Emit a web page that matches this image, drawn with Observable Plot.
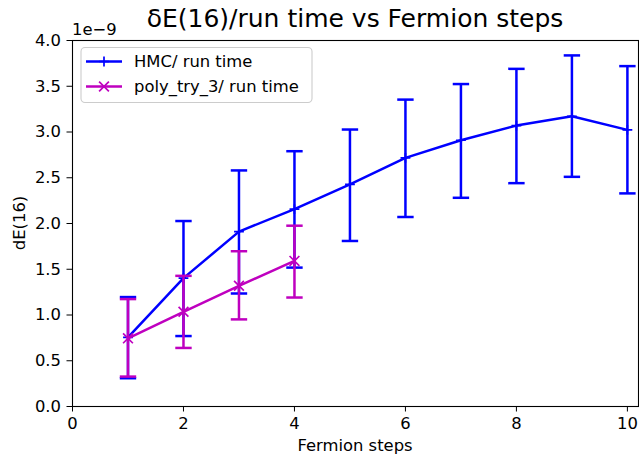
<!DOCTYPE html>
<html>
<head>
<meta charset="utf-8">
<script src="https://cdn.jsdelivr.net/npm/d3@7"></script>
<script src="https://cdn.jsdelivr.net/npm/@observablehq/plot@0.6"></script>
<style>
  html, body { margin: 0; padding: 0; background: #fff; }
  #chart svg { display: block; }
</style>
</head>
<body>
<div id="chart"></div>
<script>
// ---- data (values in units of 1e-9) ----
const hmcSteps = [1, 2, 3, 4, 5, 6, 7, 8, 9, 10];
const hmcValue = [0.755, 1.403, 1.911, 2.158, 2.427, 2.717, 2.910, 3.070, 3.172, 3.023];
const hmcLow   = [0.309, 0.770, 1.235, 1.518, 1.809, 2.071, 2.281, 2.441, 2.510, 2.329];
const hmcHigh  = [1.196, 2.027, 2.580, 2.790, 3.027, 3.354, 3.524, 3.690, 3.837, 3.720];

const polySteps = [1, 2, 3, 4];
const polyValue = [0.745, 1.035, 1.319, 1.591];
const polyLow   = [0.327, 0.640, 0.952, 1.191];
const polyHigh  = [1.174, 1.428, 1.697, 1.976];

const xTicks = [0, 2, 4, 6, 8, 10];
const yTicks = [0, 0.5, 1, 1.5, 2, 2.5, 3, 3.5, 4];

const seriesNames = ["HMC/ run time", "poly_try_3/ run time"];
const titleText = "δE(16)/run time vs Fermion steps";
const xLabel = "Fermion steps";
const yLabel = "dE(16)";
const offsetText = "1e\u22129";

const BLUE = "#0000ff";
const MAG = "#bf00bf";

const hmc = hmcSteps.map((s, i) => ({s, v: hmcValue[i], lo: hmcLow[i], hi: hmcHigh[i]}));
const poly = polySteps.map((s, i) => ({s, v: polyValue[i], lo: polyLow[i], hi: polyHigh[i]}));

// custom symbols
const capSym = {draw(ctx) { ctx.moveTo(-8.2, 0); ctx.lineTo(8.2, 0); }};
const plusSym = {draw(ctx) { ctx.moveTo(-4.9, 0); ctx.lineTo(4.9, 0); ctx.moveTo(0, -4.9); ctx.lineTo(0, 4.9); }};
const timesSym = {draw(ctx) { const a = 4.9; ctx.moveTo(-a, -a); ctx.lineTo(a, a); ctx.moveTo(-a, a); ctx.lineTo(a, -a); }};

function errMarks(data, color, sym) {
  return [
    Plot.ruleX(data, {x: "s", y1: "lo", y2: "hi", stroke: color, strokeWidth: 2.5}),
    Plot.dot(data, {x: "s", y: "lo", symbol: capSym, fill: "none", stroke: color, strokeWidth: 2.5}),
    Plot.dot(data, {x: "s", y: "hi", symbol: capSym, fill: "none", stroke: color, strokeWidth: 2.5}),
    Plot.line(data, {x: "s", y: "v", stroke: color, strokeWidth: 2.5}),
    Plot.dot(data, {x: "s", y: "v", symbol: sym, fill: "none", stroke: color, strokeWidth: 1.7})
  ];
}

const chart = Plot.plot({
  width: 639,
  height: 457,
  marginLeft: 72,
  marginRight: 1,
  marginTop: 40,
  marginBottom: 51,
  style: {fontFamily: "DejaVu Sans, sans-serif", fontSize: "16.4px", color: "#000", background: "#fff"},
  x: {domain: [0, 10.2], ticks: xTicks, tickFormat: d3.format("d"), label: null},
  y: {domain: [0, 4], ticks: yTicks, tickFormat: d3.format(".1f"), label: null},
  marks: [
    ...errMarks(hmc, BLUE, plusSym),
    ...errMarks(poly, MAG, timesSym),
    Plot.frame({stroke: "#000", strokeWidth: 1.1}),
    Plot.axisX({ticks: xTicks, tickFormat: d3.format("d"), tickSize: 5.5, tickPadding: 5, label: null, stroke: "#000", fontSize: 16.4}),
    Plot.axisY({ticks: yTicks, tickFormat: d3.format(".1f"), tickSize: 5.5, tickPadding: 6, label: null, stroke: "#000", fontSize: 16.4})
  ]
});

document.getElementById("chart").appendChild(chart);

// annotations: title, axis labels, offset, legend
const svg = d3.select(chart);
const ff = "DejaVu Sans, sans-serif";

svg.append("text").attr("x", 355).attr("y", 27).attr("text-anchor", "middle")
  .attr("font-family", ff).attr("font-size", 25).attr("fill", "#000").text(titleText);

svg.append("text").attr("x", 355).attr("y", 451).attr("text-anchor", "middle")
  .attr("font-family", ff).attr("font-size", 16.4).attr("fill", "#000").text(xLabel);

svg.append("text").attr("transform", "translate(25,223) rotate(-90)").attr("text-anchor", "middle")
  .attr("font-family", ff).attr("font-size", 16.4).attr("fill", "#000").text(yLabel);

svg.append("text").attr("x", 72).attr("y", 35).attr("text-anchor", "start")
  .attr("font-family", ff).attr("font-size", 16.4).attr("fill", "#000").text(offsetText);

const lg = svg.append("g");
lg.append("rect").attr("x", 81).attr("y", 47.5).attr("width", 231).attr("height", 55).attr("rx", 4)
  .attr("fill", "#fff").attr("fill-opacity", 0.8).attr("stroke", "#cccccc").attr("stroke-width", 1.1);
const entries = [
  {name: seriesNames[0], color: BLUE, sym: "plus", y: 61.5},
  {name: seriesNames[1], color: MAG, sym: "times", y: 86.5}
];
entries.forEach(e => {
  lg.append("line").attr("x1", 86).attr("x2", 122).attr("y1", e.y).attr("y2", e.y)
    .attr("stroke", e.color).attr("stroke-width", 2.5);
  const a = 4.9, cx = 104;
  if (e.sym === "plus") {
    lg.append("path").attr("d", `M${cx - a},${e.y}H${cx + a}M${cx},${e.y - a}V${e.y + a}`)
      .attr("stroke", e.color).attr("stroke-width", 1.7).attr("fill", "none");
  } else {
    lg.append("path").attr("d", `M${cx - a},${e.y - a}L${cx + a},${e.y + a}M${cx - a},${e.y + a}L${cx + a},${e.y - a}`)
      .attr("stroke", e.color).attr("stroke-width", 1.7).attr("fill", "none");
  }
  lg.append("text").attr("x", 134).attr("y", e.y).attr("dy", "0.36em").attr("text-anchor", "start")
    .attr("font-family", ff).attr("font-size", 16.4).attr("fill", "#000").text(e.name);
});
</script>
</body>
</html>
